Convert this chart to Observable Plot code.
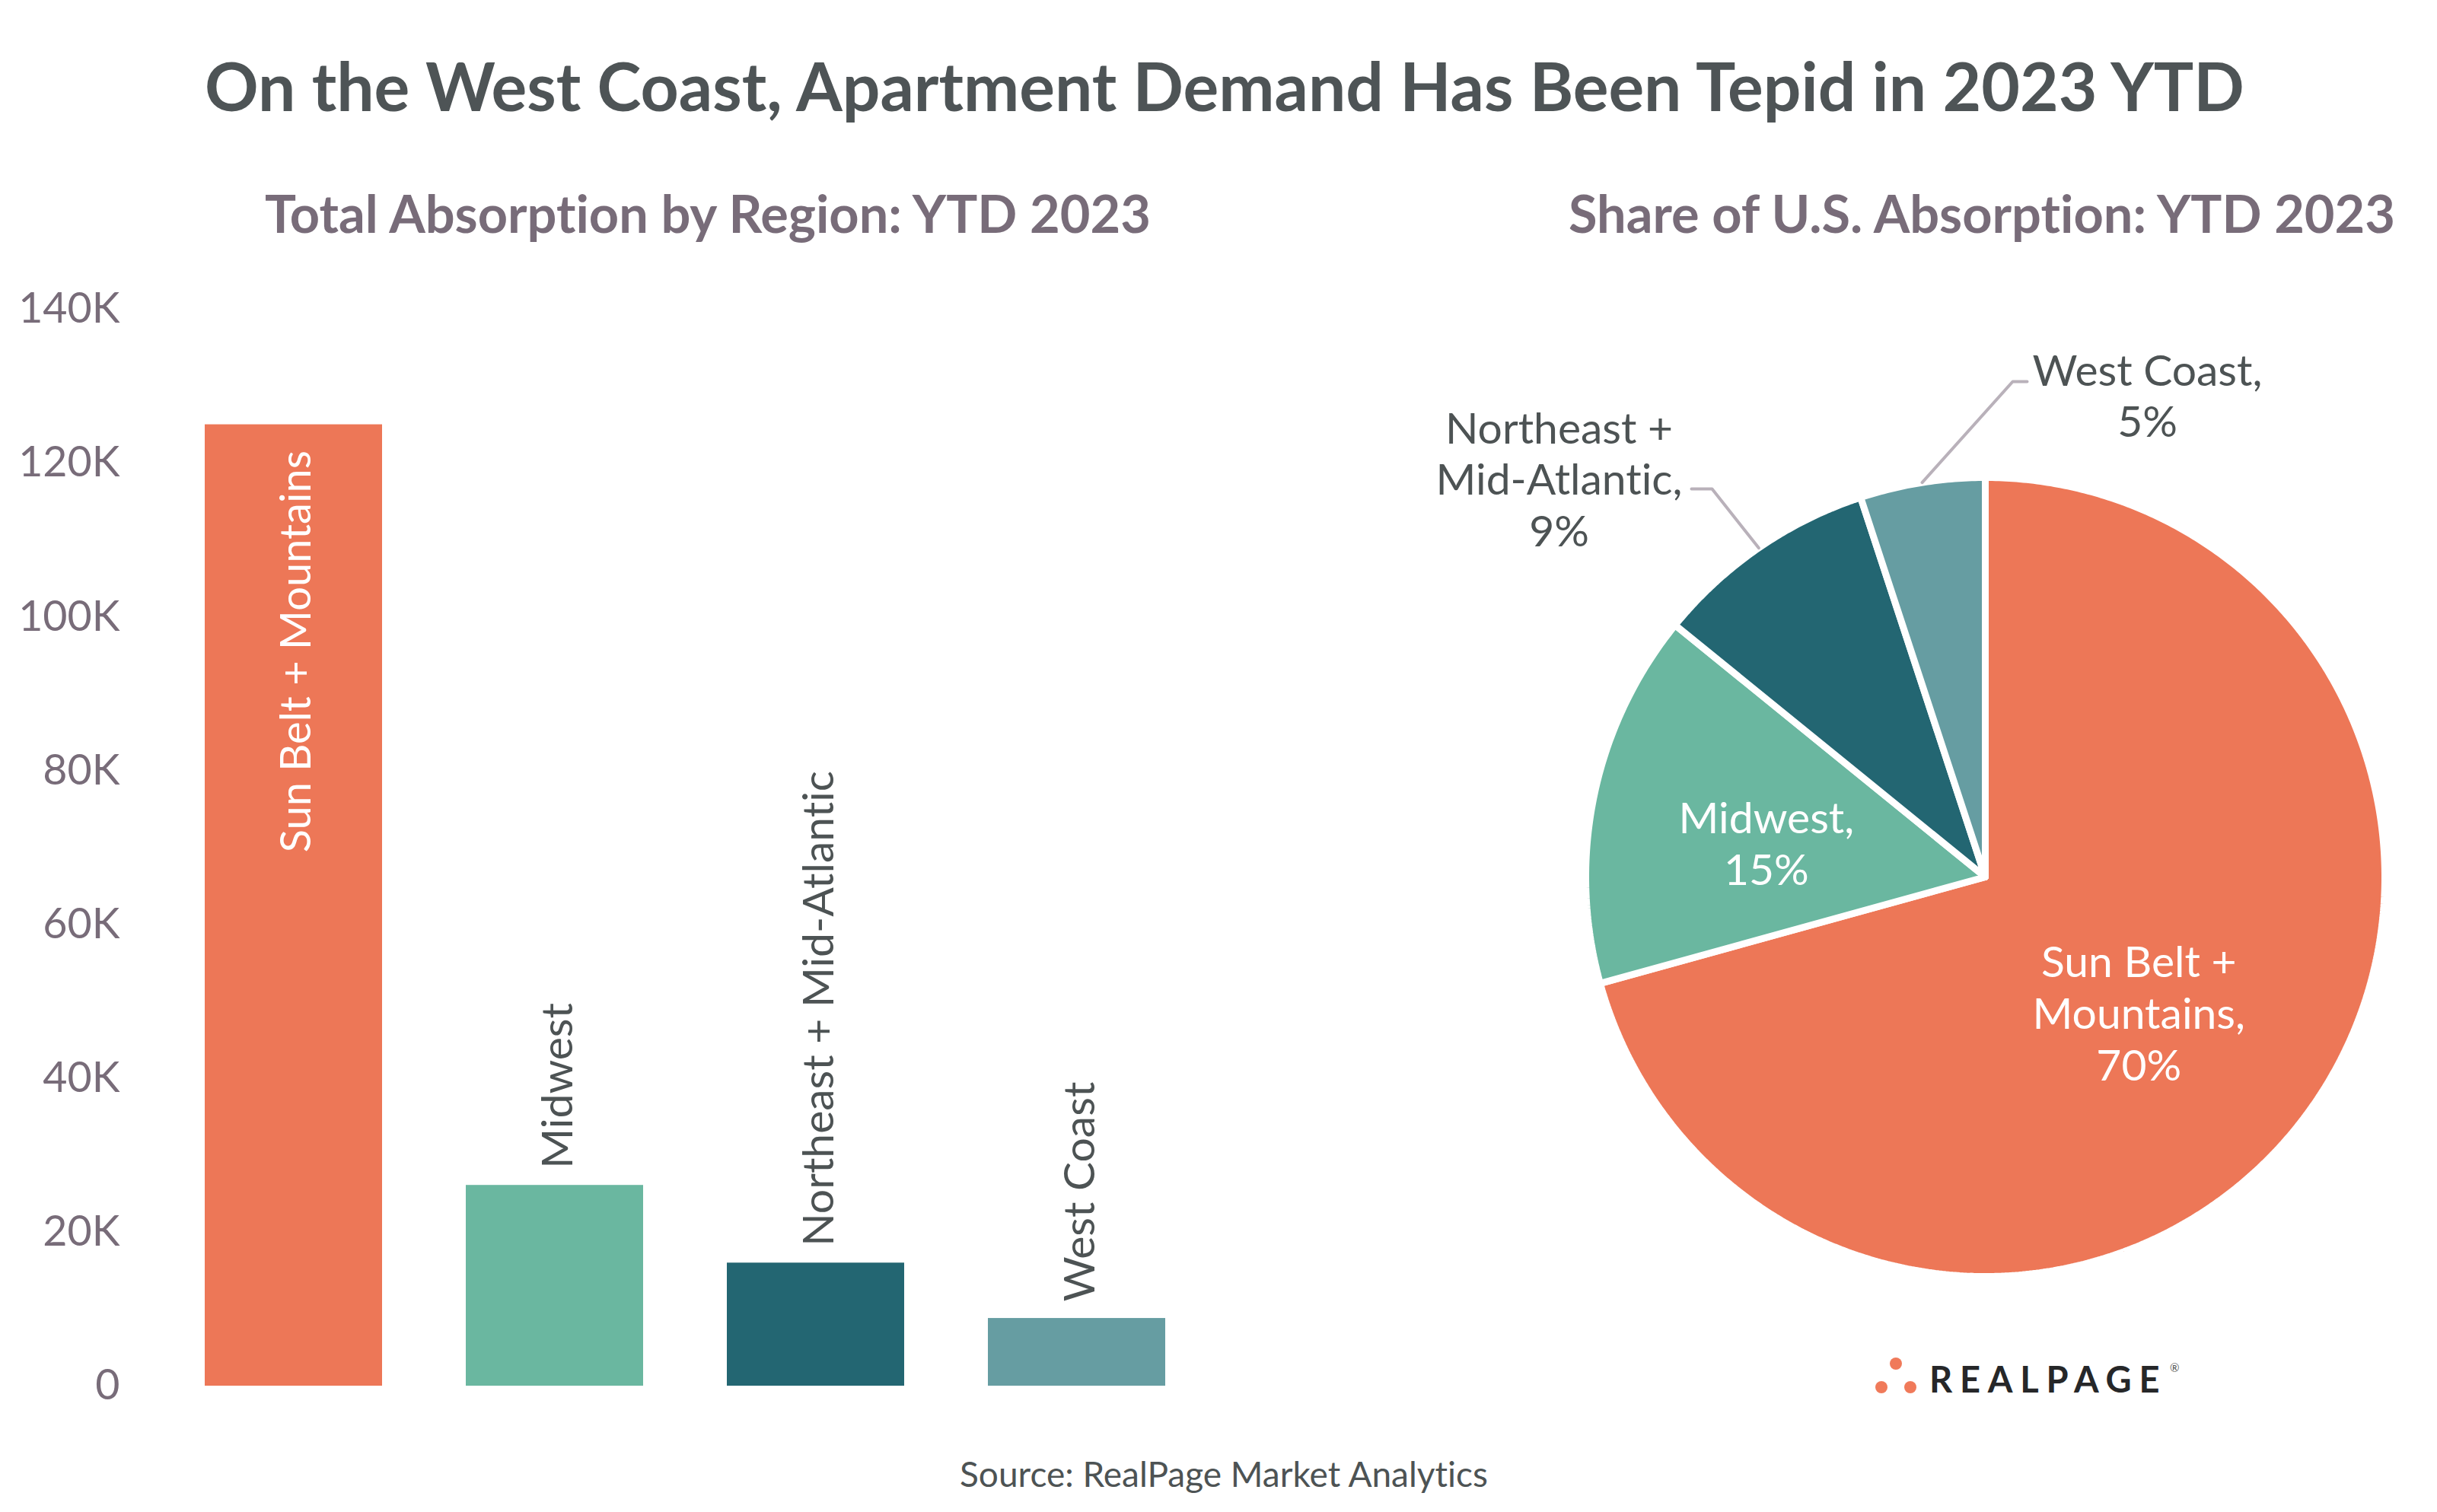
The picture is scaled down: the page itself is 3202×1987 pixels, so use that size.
<!DOCTYPE html>
<html>
<head>
<meta charset="utf-8">
<script src="https://cdn.jsdelivr.net/npm/d3@7"></script>
<script src="https://cdn.jsdelivr.net/npm/@observablehq/plot@0.6"></script>
<style>
  html, body { margin: 0; padding: 0; background: #ffffff; }
  #page { position: relative; width: 3202px; height: 1987px; overflow: hidden; font-family: Lato, "Noto Sans", sans-serif; }
  .layer { position: absolute; }
  text { font-variant-ligatures: none; font-feature-settings: "liga" 0, "clig" 0; }
</style>
</head>
<body>
<div id="page">
  <div id="bars" class="layer" style="left:0px; top:340px;"></div>
  <div id="pie" class="layer" style="left:1700px; top:340px;"></div>
  <svg id="texts" class="layer" style="left:0; top:0; pointer-events:none" width="3202" height="1987" xmlns="http://www.w3.org/2000/svg" font-family="Lato, 'Noto Sans', sans-serif">
    <text x="1609" y="146" text-anchor="middle" font-size="87.5" font-weight="700" fill="#4e5456">On the West Coast, Apartment Demand Has Been Tepid in 2023 YTD</text>
    <text x="930" y="306" text-anchor="middle" font-size="68.5" font-weight="700" fill="#786c79">Total Absorption by Region: YTD 2023</text>
    <text x="2604" y="306" text-anchor="middle" font-size="68.5" font-weight="700" fill="#786c79">Share of U.S. Absorption: YTD 2023</text>
    <text x="1608" y="1954" text-anchor="middle" font-size="46" fill="#4d5354">Source: RealPage Market Analytics</text>
    <g>
      <circle cx="2491" cy="1792" r="8" fill="#f07a5a"></circle>
      <circle cx="2472" cy="1823" r="8" fill="#f07a5a"></circle>
      <circle cx="2510" cy="1823" r="8" fill="#f07a5a"></circle>
      <text x="2535" y="1830" font-size="47" font-weight="700" letter-spacing="9.8" fill="#262729">REALPAGE</text>
      <text x="2851" y="1803" font-size="15" fill="#555">®</text>
    </g>
  </svg>
</div>
<script>
// ---- data ----
const regions = ["Sun Belt + Mountains", "Midwest", "Northeast + Mid-Atlantic", "West Coast"];
const absorption = [125000, 26100, 16000, 8800];
const shares = [70, 15, 9, 5];
const yTicks = [0, 20000, 40000, 60000, 80000, 100000, 120000, 140000];
const tickLabels = ["0", "20K", "40K", "60K", "80K", "100K", "120K", "140K"];
const colors = ["#ED7757", "#6AB7A0", "#236672", "#669DA2"];

const font = "Lato, 'Noto Sans', sans-serif";

// ---- bar chart ----
const bars = regions.map((r, i) => ({region: r, value: absorption[i]}));
const inside = bars.filter(d => d.value > 60000);
const above = bars.filter(d => d.value <= 60000);

const barPlot = Plot.plot({
  width: 1700, height: 1540,
  marginLeft: 157, marginRight: 57, marginTop: 66, marginBottom: 59,
  style: {fontFamily: font, fontSize: "56px", color: "#786c79", background: "transparent", overflow: "visible"},
  x: {domain: regions, padding: 0.322, axis: null},
  y: {domain: [0, 140000]},
  color: {domain: regions, range: colors},
  marks: [
    Plot.barY(bars, {x: "region", y: "value", fill: "region"}),
    Plot.axisY({ticks: yTicks, tickSize: 0, tickPadding: 0, label: null,
      tickFormat: d => tickLabels[yTicks.indexOf(d)], fontSize: 55.5, fill: "#786c79"}),
    Plot.text(inside, {x: "region", y: "value", text: "region", rotate: -90, textAnchor: "end",
      dy: 34, dx: 4, fill: "white", fontSize: 56}),
    Plot.text(above, {x: "region", y: "value", text: "region", rotate: -90, textAnchor: "start",
      dy: -22, dx: 5, fill: "#4d5354", fontSize: 57})
  ]
});
document.getElementById("bars").appendChild(barPlot);

// ---- pie chart ----
const R = 525;
const total = d3.sum(shares);
let acc = 0;
const slices = regions.map((r, i) => {
  const a0 = acc / total * 2 * Math.PI;
  acc += shares[i];
  const a1 = acc / total * 2 * Math.PI;
  return {region: r, share: shares[i], a0, a1, mid: (a0 + a1) / 2};
});
const polar = (a, r) => ({x: r * Math.sin(a), y: -r * Math.cos(a)});

const piePts = [];
for (const s of slices) {
  piePts.push({region: s.region, x: 0, y: 0});
  const n = Math.max(4, Math.ceil((s.a1 - s.a0) / (Math.PI / 360)));
  for (let k = 0; k <= n; k++) {
    const p = polar(s.a0 + (s.a1 - s.a0) * k / n, R);
    piePts.push({region: s.region, x: p.x, y: p.y});
  }
  piePts.push({region: s.region, x: 0, y: 0});
}

const labelText = s => s.region.replace(" + ", " +\n") + ",\n" + s.share + "%";

// layout of the labels (pixels relative to the pie centre)
const insideLayout = {
  "Sun Belt + Mountains": {r: 0.55, dx: -28, dy: 3},
  "Midwest": {r: 0.55, dx: -5, dy: 14}
};
const outsideLayout = {
  "Northeast + Mid-Atlantic": {elbow: [-359, -510], end: [-386, -510], text: [-560, -618]},
  "West Coast": {elbow: [36, -651], end: [55, -651], text: [213, -694]}
};

const insideLabels = slices.filter(s => insideLayout[s.region]).map(s => {
  const L = insideLayout[s.region];
  const p = polar(s.mid, R * L.r);
  return {x: p.x + L.dx, y: p.y + L.dy, text: labelText(s)};
});
const outsideLabels = slices.filter(s => outsideLayout[s.region]).map(s => {
  const L = outsideLayout[s.region];
  return {x: L.text[0], y: L.text[1], text: labelText(s)};
});
const leaders = [];
for (const s of slices.filter(s => outsideLayout[s.region])) {
  const L = outsideLayout[s.region];
  const p = polar(s.mid, R);
  leaders.push({region: s.region, x: p.x, y: p.y});
  leaders.push({region: s.region, x: L.elbow[0], y: L.elbow[1]});
  leaders.push({region: s.region, x: L.end[0], y: L.end[1]});
}

const piePlot = Plot.plot({
  width: 1502, height: 1440, margin: 0,
  style: {fontFamily: font, fontSize: "57px", background: "transparent", overflow: "visible"},
  x: {domain: [-908, 594], axis: null},
  y: {domain: [-812, 628], reverse: true, axis: null},
  color: {domain: regions, range: colors},
  marks: [
    Plot.line(piePts, {x: "x", y: "y", z: "region", fill: "region", stroke: "white", strokeWidth: 9, strokeLinejoin: "miter", curve: "linear"}),
    Plot.line(leaders, {x: "x", y: "y", z: "region", stroke: "#b9b1ba", strokeWidth: 4, curve: "linear"}),
    Plot.text(insideLabels, {x: "x", y: "y", text: "text", fill: "white", fontSize: 57, lineHeight: 1.19, lineAnchor: "middle"}),
    Plot.text(outsideLabels, {x: "x", y: "y", text: "text", fill: "#4d5354", fontSize: 57, lineHeight: 1.19, lineAnchor: "top"})
  ]
});
document.getElementById("pie").appendChild(piePlot);
</script>
</body>
</html>
